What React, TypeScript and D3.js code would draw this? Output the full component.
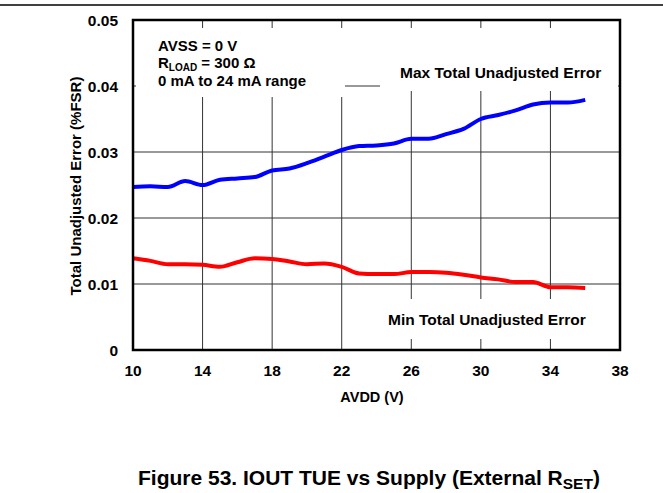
import { useEffect, useRef } from 'react';
import * as d3 from 'd3';

// supply voltage (V)
const avdd = [10, 11, 12, 13, 14, 15, 16, 17, 18, 19, 20, 21, 22, 23, 24, 25, 26, 27, 28, 29, 30, 31, 32, 33, 34, 35, 36];
// max TUE (%FSR)
const maxTue = [0.0247, 0.0248, 0.0247, 0.0256, 0.025, 0.0258, 0.026, 0.0262, 0.0272, 0.0275, 0.0283, 0.0293, 0.0303, 0.0309, 0.031, 0.0313, 0.032, 0.032, 0.0327, 0.0335, 0.035, 0.0356, 0.0363, 0.0372, 0.0375, 0.0375, 0.0379];
// min TUE (%FSR)
const minTue = [0.0139, 0.0135, 0.013, 0.013, 0.0129, 0.0126, 0.0133, 0.0139, 0.0138, 0.0134, 0.013, 0.0131, 0.0126, 0.0116, 0.0115, 0.0115, 0.0118, 0.0118, 0.0117, 0.0114, 0.011, 0.0107, 0.0103, 0.0103, 0.0095, 0.0095, 0.0094];
const xTicks = [10, 14, 18, 22, 26, 30, 34, 38];
const yTicks = [0, 0.01, 0.02, 0.03, 0.04, 0.05];

export default function App() {
  const ref = useRef<SVGSVGElement>(null);

  useEffect(() => {
    document.body.style.margin = '0';
    const svg = d3.select(ref.current);
    svg.selectAll('*').remove();

    const left = 133, right = 620, top = 20, bottom = 350;
    const x = d3.scaleLinear().domain([10, 38]).range([left, right]);
    const y = d3.scaleLinear().domain([0, 0.05]).range([bottom, top]);
    const font = 'Liberation Sans, Arial, sans-serif';

    // page rule
    svg.append('line').attr('x1', 0).attr('x2', 663).attr('y1', 5).attr('y2', 5)
      .attr('stroke', '#000').attr('stroke-width', 1.5);

    // grid
    const g = svg.append('g');
    g.selectAll('.vg').data(xTicks.slice(1, -1)).enter().append('line')
      .attr('x1', d => x(d)).attr('x2', d => x(d)).attr('y1', top).attr('y2', bottom)
      .attr('stroke', '#333').attr('stroke-width', 1);
    g.selectAll('.hg').data(yTicks.slice(1, -1)).enter().append('line')
      .attr('x1', left).attr('x2', right).attr('y1', d => y(d)).attr('y2', d => y(d))
      .attr('stroke', '#333').attr('stroke-width', 1);

    // label backgrounds hiding grid
    svg.append('rect').attr('x', 136).attr('y', 28).attr('width', 209).attr('height', 69).attr('fill', '#fff');
    svg.append('rect').attr('x', 380).attr('y', 28).attr('width', 238).attr('height', 63).attr('fill', '#fff');
    svg.append('rect').attr('x', 380).attr('y', 299).attr('width', 238).attr('height', 40).attr('fill', '#fff');

    const line = d3.line<number>()
      .x((_, i) => x(avdd[i]))
      .y(d => y(d))
      .curve(d3.curveMonotoneX);

    svg.append('path').datum(maxTue).attr('d', line).attr('fill', 'none')
      .attr('stroke', '#0000ff').attr('stroke-width', 4).attr('stroke-linejoin', 'round');
    svg.append('path').datum(minTue).attr('d', line).attr('fill', 'none')
      .attr('stroke', '#ff0000').attr('stroke-width', 4).attr('stroke-linejoin', 'round');

    // frame
    svg.append('rect').attr('x', left).attr('y', top).attr('width', right - left).attr('height', bottom - top)
      .attr('fill', 'none').attr('stroke', '#000').attr('stroke-width', 2.5);

    // tick labels
    svg.selectAll('.xt').data(xTicks).enter().append('text')
      .attr('x', d => x(d)).attr('y', 376).attr('text-anchor', 'middle')
      .attr('font-family', font).attr('font-weight', 'bold').attr('font-size', 15.5)
      .text(d => d);
    svg.selectAll('.yt').data(yTicks).enter().append('text')
      .attr('x', 118).attr('y', d => y(d) + 5.5).attr('text-anchor', 'end')
      .attr('font-family', font).attr('font-weight', 'bold').attr('font-size', 15.5)
      .text(d => (d === 0 ? '0' : d3.format('.2f')(d)));

    // axis titles
    svg.append('text').attr('x', 372).attr('y', 402).attr('text-anchor', 'middle')
      .attr('font-family', font).attr('font-weight', 'bold').attr('font-size', 14.5)
      .text('AVDD (V)');
    svg.append('text').attr('transform', 'translate(81,186) rotate(-90)').attr('text-anchor', 'middle')
      .attr('font-family', font).attr('font-weight', 'bold').attr('font-size', 15)
      .text('Total Unadjusted Error (%FSR)');

    // annotations
    const ann = svg.append('text').attr('font-family', font).attr('font-weight', 'bold').attr('font-size', 15);
    ann.append('tspan').attr('x', 158).attr('y', 51).text('AVSS = 0 V');
    const r = ann.append('tspan').attr('x', 158).attr('y', 67.5);
    r.append('tspan').text('R');
    r.append('tspan').attr('font-size', 10).attr('dy', 3).text('LOAD');
    r.append('tspan').attr('dy', -3).text('  = 300 Ω');
    ann.append('tspan').attr('x', 158).attr('y', 85.5).text('0 mA to 24 mA range');

    svg.append('text').attr('x', 400).attr('y', 78)
      .attr('font-family', font).attr('font-weight', 'bold').attr('font-size', 15.5)
      .text('Max Total Unadjusted Error');
    svg.append('text').attr('x', 388).attr('y', 325)
      .attr('font-family', font).attr('font-weight', 'bold').attr('font-size', 15.5)
      .text('Min Total Unadjusted Error');

    // caption
    const cap = svg.append('text').attr('x', 138).attr('y', 485)
      .attr('font-family', font).attr('font-weight', 'bold').attr('font-size', 21);
    cap.append('tspan').text('Figure 53. IOUT TUE vs Supply (External R');
    cap.append('tspan').attr('font-size', 15.5).attr('dy', 4).text('SET');
    cap.append('tspan').attr('dy', -4).text(')');
  }, []);

  return <svg ref={ref} width={663} height={493} style={{ display: 'block', background: '#fff' }} />;
}
